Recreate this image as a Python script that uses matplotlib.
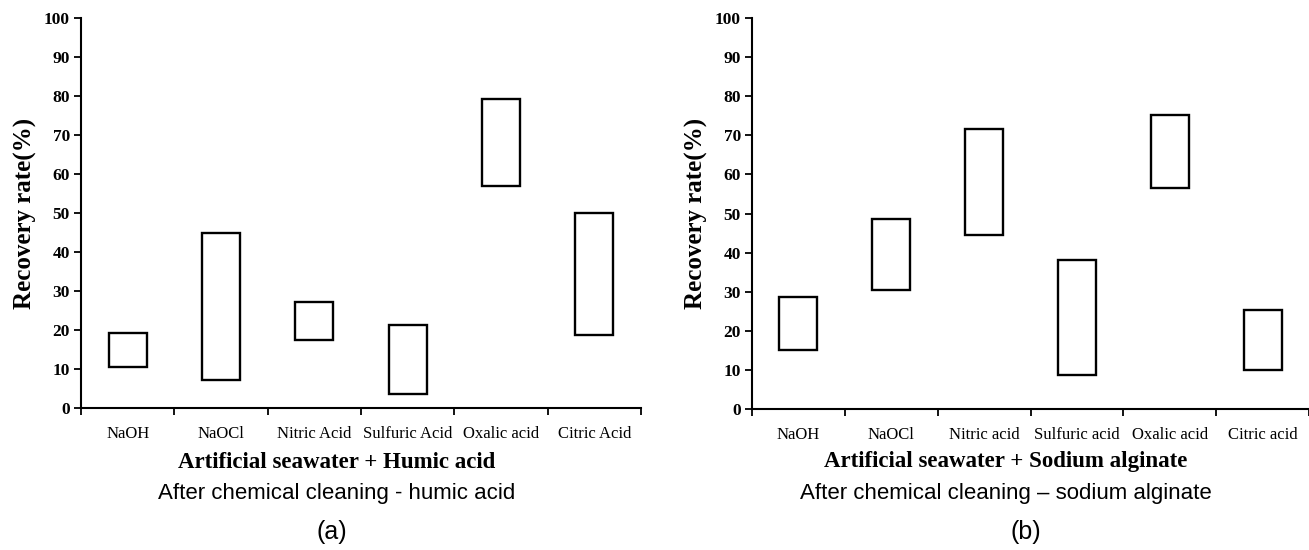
import matplotlib
matplotlib.use("Agg")
import matplotlib.pyplot as plt
import numpy as np

cats_a = ["NaOH", "NaOCl", "Nitric Acid", "Sulfuric Acid", "Oxalic acid", "Citric Acid"]
low_a = [10.5, 7.2, 17.5, 3.6, 56.9, 18.7]
high_a = [19.3, 45.0, 27.2, 21.4, 79.3, 49.9]

cats_b = ["NaOH", "NaOCl", "Nitric acid", "Sulfuric acid", "Oxalic acid", "Citric acid"]
low_b = [15.0, 30.5, 44.5, 8.8, 56.6, 9.9]
high_b = [28.6, 48.6, 71.5, 38.2, 75.3, 25.4]

yticks = list(range(0, 101, 10))

title1_a = "Artificial seawater + Humic acid"
title2_a = "After chemical cleaning - humic acid"
title1_b = "Artificial seawater + Sodium alginate"
title2_b = "After chemical cleaning \u2013 sodium alginate"

W, H = 1309, 550
fig = plt.figure(figsize=(W / 100, H / 100), dpi=100)

serif = "Liberation Serif"
sans = "Liberation Sans"


def panel(rect, cats, low, high, t1, t2, letter, tx, lx):
    ax = fig.add_axes(rect)
    x = np.arange(1, len(cats) + 1)
    heights = np.array(high) - np.array(low)
    ax.bar(x, heights, bottom=low, width=0.41, facecolor="white",
           edgecolor="black", linewidth=1.7)
    ax.set_xlim(0.5, len(cats) + 0.5)
    ax.set_ylim(0, 100)
    ax.spines["top"].set_visible(False)
    ax.spines["right"].set_visible(False)
    ax.spines["left"].set_linewidth(1.5)
    ax.spines["bottom"].set_linewidth(1.5)
    ax.set_yticks(yticks)
    ax.set_yticklabels([str(v) for v in yticks], fontfamily=serif,
                       fontweight="bold", fontsize=12.5)
    ax.tick_params(axis="y", length=5, width=1.3, pad=3)
    ax.set_xticks(x)
    ax.set_xticklabels(cats, fontfamily=serif, fontsize=12)
    ax.tick_params(axis="x", which="major", length=0, pad=13)
    ax.set_xticks(np.arange(0.5, len(cats) + 1, 1.0), minor=True)
    ax.tick_params(axis="x", which="minor", length=5, width=1.3)
    ax.set_ylabel("Recovery rate(%)", fontfamily=serif, fontweight="bold",
                  fontsize=18, labelpad=5)
    fig.text(tx / W, 1 - 462 / H, t1, ha="center", va="center",
             fontfamily=serif, fontweight="bold", fontsize=16.5)
    fig.text(tx / W, 1 - 493 / H, t2, ha="center", va="center",
             fontfamily=sans, fontsize=16)
    fig.text(lx / W, 1 - 532 / H, letter, ha="center", va="center",
             fontfamily=sans, fontsize=18)
    return ax


panel([81 / W, (H - 408) / H, 560 / W, 390 / H], cats_a, low_a, high_a,
      title1_a, title2_a, "(a)", 337, 332)
panel([752 / W, (H - 409) / H, 557 / W, 391 / H], cats_b, low_b, high_b,
      title1_b, title2_b, "(b)", 1006, 1026)

fig.savefig("out.png", dpi=100)
